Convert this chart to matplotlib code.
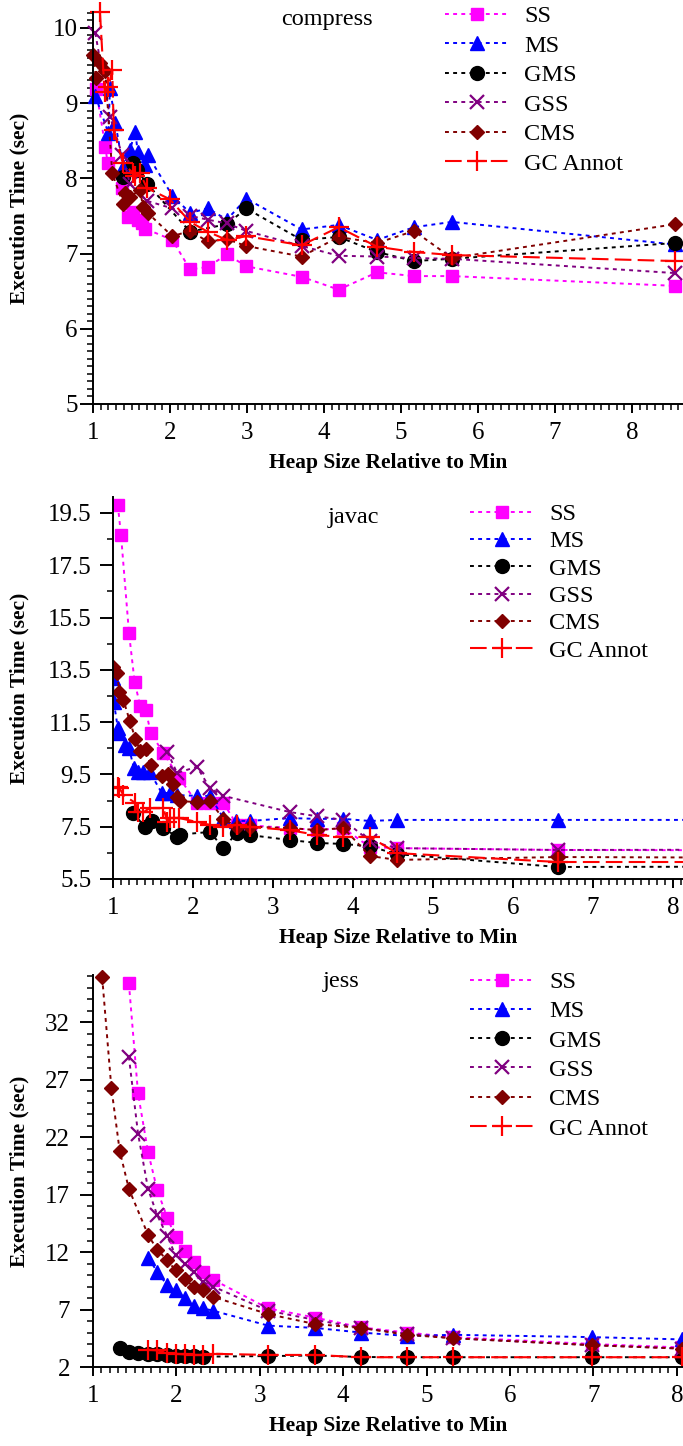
import matplotlib
matplotlib.use("Agg")
import matplotlib.pyplot as plt
from matplotlib.ticker import MultipleLocator, FixedLocator, FuncFormatter

plt.rcParams['font.family'] = ['Liberation Serif', 'DejaVu Serif']

W, H = 683, 1446

# ---------------- compress ----------------
c_ss_x = [1.04, 1.16, 1.19, 1.38, 1.45, 1.52, 1.58, 1.64, 1.68, 2.03, 2.26, 2.49, 2.74, 2.99, 3.71, 4.19, 4.69, 5.17, 5.66, 8.56]
c_ss_y = [9.18, 8.42, 8.20, 7.87, 7.48, 7.55, 7.45, 7.40, 7.33, 7.18, 6.79, 6.82, 6.99, 6.83, 6.69, 6.52, 6.75, 6.70, 6.70, 6.57]
c_ms_x = [1.03, 1.20, 1.22, 1.29, 1.39, 1.48, 1.55, 1.58, 1.68, 1.71, 2.03, 2.26, 2.49, 2.74, 2.99, 3.71, 4.19, 4.69, 5.17, 5.66, 8.56]
c_ms_y = [9.10, 8.60, 9.20, 8.74, 8.15, 8.38, 8.62, 8.35, 8.18, 8.31, 7.77, 7.54, 7.60, 7.45, 7.73, 7.32, 7.38, 7.18, 7.35, 7.42, 7.12]
c_gms_x = [1.39, 1.52, 1.57, 1.70, 2.26, 2.74, 2.99, 3.71, 4.19, 4.69, 5.17, 5.66, 8.56]
c_gms_y = [8.02, 8.20, 8.11, 7.93, 7.29, 7.39, 7.60, 7.18, 7.22, 7.02, 6.90, 6.93, 7.14]
c_gss_x = [1.03, 1.22, 1.38, 1.48, 1.70, 2.03, 2.26, 2.49, 2.74, 2.99, 3.71, 4.19, 4.69, 5.17, 5.66, 8.56]
c_gss_y = [9.93, 8.82, 8.31, 7.93, 7.70, 7.60, 7.50, 7.45, 7.40, 7.30, 7.10, 6.97, 6.96, 6.94, 6.93, 6.74]
c_cms_x = [1.00, 1.04, 1.09, 1.16, 1.25, 1.39, 1.42, 1.48, 1.61, 1.65, 1.71, 2.03, 2.26, 2.49, 2.74, 2.99, 3.71, 4.19, 4.69, 5.17, 5.66, 8.56]
c_cms_y = [9.64, 9.33, 9.53, 9.42, 8.07, 7.66, 7.80, 7.75, 7.85, 7.62, 7.54, 7.23, 7.30, 7.16, 7.19, 7.10, 6.96, 7.22, 7.14, 7.30, 6.94, 7.39]
c_gc_x = [1.09, 1.15, 1.20, 1.25, 1.27, 1.39, 1.52, 1.55, 1.61, 1.70, 2.00, 2.26, 2.49, 2.74, 2.99, 3.71, 4.19, 4.69, 5.17, 5.66, 8.56]
c_gc_y = [10.21, 9.15, 9.21, 9.44, 8.64, 8.20, 8.07, 8.03, 8.07, 7.87, 7.72, 7.42, 7.29, 7.18, 7.23, 7.11, 7.35, 7.09, 7.02, 6.98, 6.90]

# ---------------- javac ----------------
j_ss_x = [1.06, 1.10, 1.20, 1.27, 1.34, 1.41, 1.47, 1.63, 1.83, 2.05, 2.21, 2.38, 2.55, 2.71, 3.21, 3.55, 3.88, 4.21, 4.55, 6.56, 8.60]
j_ss_y = [19.81, 18.66, 14.91, 13.04, 12.12, 11.97, 11.09, 10.32, 9.36, 8.41, 8.41, 8.41, 7.57, 7.55, 7.45, 7.37, 7.45, 6.72, 6.68, 6.61, 6.60]
j_ms_x = [1.00, 1.01, 1.06, 1.08, 1.15, 1.20, 1.26, 1.31, 1.38, 1.46, 1.61, 1.71, 1.80, 2.05, 2.21, 2.38, 2.54, 2.71, 3.21, 3.55, 3.88, 4.21, 4.55, 6.56, 8.60]
j_ms_y = [13.19, 12.27, 11.28, 11.10, 10.63, 10.51, 9.75, 9.60, 9.59, 9.59, 8.79, 8.79, 8.71, 8.68, 8.68, 7.83, 7.72, 7.72, 7.83, 7.80, 7.80, 7.72, 7.76, 7.76, 7.76]
j_gms_x = [1.25, 1.40, 1.49, 1.63, 1.80, 1.84, 2.21, 2.38, 2.55, 2.71, 3.21, 3.55, 3.88, 4.21, 4.55, 6.56, 8.60]
j_gms_y = [8.03, 7.49, 7.72, 7.45, 7.11, 7.20, 7.30, 6.69, 7.26, 7.18, 6.99, 6.88, 6.84, 6.75, 6.45, 5.96, 5.97]
j_gss_x = [1.68, 1.80, 2.05, 2.21, 2.38, 3.21, 3.55, 3.88, 4.21, 4.55, 6.56, 8.60]
j_gss_y = [10.36, 9.56, 9.79, 8.98, 8.68, 8.06, 7.90, 7.76, 6.95, 6.68, 6.61, 6.62]
j_cms_x = [1.00, 1.05, 1.08, 1.13, 1.21, 1.28, 1.34, 1.41, 1.47, 1.61, 1.69, 1.75, 1.80, 1.84, 2.05, 2.21, 2.38, 2.55, 2.71, 3.21, 3.55, 3.88, 4.21, 4.55, 6.56, 8.60]
j_cms_y = [13.61, 13.38, 12.65, 12.35, 11.54, 10.86, 10.40, 10.47, 9.86, 9.44, 9.52, 9.13, 8.64, 8.48, 8.44, 8.48, 7.80, 7.50, 7.50, 7.45, 7.37, 7.45, 6.38, 6.23, 6.34, 6.32]
j_gc_x = [1.00, 1.06, 1.08, 1.13, 1.28, 1.31, 1.38, 1.46, 1.63, 1.68, 1.71, 1.76, 1.83, 2.05, 2.21, 2.38, 2.55, 2.71, 3.21, 3.55, 3.88, 4.21, 4.55, 6.56, 8.60]
j_gc_y = [8.98, 9.02, 8.98, 8.71, 8.41, 8.06, 8.06, 8.21, 8.21, 7.68, 7.83, 7.85, 7.83, 7.68, 7.57, 7.49, 7.57, 7.49, 7.37, 7.18, 7.11, 7.11, 6.49, 6.15, 6.15]

# ---------------- jess ----------------
s_ss_x = [1.43, 1.54, 1.66, 1.77, 1.89, 1.99, 2.10, 2.21, 2.32, 2.44, 3.10, 3.66, 4.21, 4.76, 5.32, 6.98, 8.06]
s_ss_y = [35.4, 25.8, 20.7, 17.4, 15.0, 13.3, 12.1, 11.1, 10.3, 9.6, 7.1, 6.3, 5.45, 5.0, 4.6, 4.0, 3.7]
s_ms_x = [1.66, 1.77, 1.89, 1.99, 2.10, 2.21, 2.32, 2.44, 3.10, 3.66, 4.21, 4.76, 5.32, 6.98, 8.06]
s_ms_y = [11.5, 10.3, 9.1, 8.7, 8.0, 7.3, 7.1, 6.9, 5.6, 5.4, 5.0, 4.7, 4.8, 4.6, 4.4]
s_gms_x = [1.32, 1.43, 1.54, 1.66, 1.77, 1.89, 1.99, 2.10, 2.21, 2.32, 3.10, 3.66, 4.21, 4.76, 5.32, 6.98, 8.06]
s_gms_y = [3.65, 3.30, 3.20, 3.10, 3.10, 3.05, 3.00, 2.95, 2.95, 2.90, 2.95, 3.00, 2.87, 2.85, 2.85, 2.85, 2.85]
s_gss_x = [1.43, 1.54, 1.66, 1.77, 1.89, 1.99, 2.10, 2.21, 2.32, 2.44, 3.10, 3.66, 4.21, 4.76, 5.32, 6.98, 8.06]
s_gss_y = [29.0, 22.3, 17.5, 15.2, 13.4, 11.7, 11.0, 10.3, 9.4, 9.0, 6.9, 6.1, 5.4, 4.9, 4.5, 3.9, 3.6]
s_cms_x = [1.11, 1.22, 1.32, 1.43, 1.66, 1.77, 1.89, 1.99, 2.10, 2.21, 2.32, 2.44, 3.10, 3.66, 4.21, 4.76, 5.32, 6.98, 8.06]
s_cms_y = [35.9, 26.3, 20.8, 17.5, 13.5, 12.2, 11.3, 10.4, 9.65, 8.96, 8.7, 8.1, 6.6, 5.74, 5.4, 4.8, 4.5, 3.9, 3.6]
s_gc_x = [1.66, 1.77, 1.89, 1.99, 2.10, 2.21, 2.32, 2.44, 3.10, 3.66, 4.21, 4.76, 5.32, 6.98, 8.06]
s_gc_y = [3.50, 3.45, 3.20, 3.15, 3.10, 3.05, 3.05, 3.15, 3.05, 3.05, 2.85, 2.85, 2.85, 2.85, 2.85]

labels = ["SS", "MS", "GMS", "GSS", "CMS", "GC Annot"]

styles = [
    dict(color="#FF00FF", marker="s", ms=9, ls=(0, (2, 2.2)), lw=1.4),
    dict(color="#0000FF", marker="^", ms=10, ls=(0, (2, 2.2)), lw=1.4),
    dict(color="#000000", marker="o", ms=10, ls=(0, (2, 2.2)), lw=1.4),
    dict(color="#800080", marker="x", ms=10, mew=1.6, ls=(0, (2, 2.2)), lw=1.4),
    dict(color="#800000", marker="D", ms=7, ls=(0, (2, 2.2)), lw=1.4),
    dict(color="#FF0000", marker="+", ms=14, mew=1.6, ls=(0, (8, 3)), lw=1.5),
]

TICK_FS = 18
LAB_FS = 15.5

fig = plt.figure(figsize=(W / 100, H / 100), dpi=100)


def panel(rect, series, xlim, ylim, ymajor, yminor, title, title_xy, leg_xy,
          leg_spacing, ypad, clip):
    left, right, top, bottom = rect
    ax = fig.add_axes([left / W, 1 - bottom / H, (right - left) / W, (bottom - top) / H])
    for (xs, ys), lab, st in zip(series, labels, styles):
        ax.plot(xs, ys, label=lab, clip_on=clip, **st)
    ax.set_xlim(*xlim)
    ax.set_ylim(*ylim)
    ax.xaxis.set_major_locator(MultipleLocator(1))
    ax.xaxis.set_minor_locator(MultipleLocator(0.1))
    ax.yaxis.set_major_locator(FixedLocator(ymajor))
    ax.yaxis.set_minor_locator(FixedLocator(yminor))
    ax.yaxis.set_major_formatter(FuncFormatter(lambda v, p: f"{v:g}"))
    for s in ("top", "right"):
        ax.spines[s].set_visible(False)
    for s in ("left", "bottom"):
        ax.spines[s].set_linewidth(1.4)
    ax.tick_params(axis="y", which="major", direction="out", length=9.5, width=1.4,
                   labelsize=TICK_FS, pad=ypad)
    ax.tick_params(axis="x", which="major", direction="out", length=6.5, width=1.4,
                   labelsize=TICK_FS, pad=6.5)
    ax.tick_params(which="minor", direction="out", length=4, width=1.1)
    ax.set_xlabel("Heap Size Relative to Min", fontsize=LAB_FS, fontweight="bold")
    ax.set_ylabel("Execution Time (sec)", fontsize=LAB_FS, fontweight="bold")
    h = bottom - top
    w = right - left
    # label top sits a fixed distance below the x axis line
    ax.xaxis.set_label_coords(0.5, -49 / h)
    ax.yaxis.set_label_coords((19 - left) / w, 0.5)
    ax.yaxis.label.set_va("center")
    fig.text(title_xy[0] / W, 1 - title_xy[1] / H, title, fontsize=17.5,
             ha="center", va="center")
    ax.legend(loc="upper left", bbox_to_anchor=(leg_xy[0] / W, 1 - leg_xy[1] / H),
              bbox_transform=fig.transFigure, frameon=False, borderpad=0,
              borderaxespad=0, handlelength=2.6, handletextpad=0.65,
              labelspacing=leg_spacing, numpoints=1, fontsize=17.5)
    return ax


panel((93, 683, 12, 404),
      [(c_ss_x, c_ss_y), (c_ms_x, c_ms_y), (c_gms_x, c_gms_y),
       (c_gss_x, c_gss_y), (c_cms_x, c_cms_y), (c_gc_x, c_gc_y)],
      (1, 8.662), (5, 10.21), [5, 6, 7, 8, 9, 10],
      [5 + 0.1 * i for i in range(1, 53) if i % 10],
      "compress", (327, 20), (445, 5), 0.31, 1.5, False)

panel((113, 683, 497, 879),
      [(j_ss_x, j_ss_y), (j_ms_x, j_ms_y), (j_gms_x, j_gms_y),
       (j_gss_x, j_gss_y), (j_cms_x, j_cms_y), (j_gc_x, j_gc_y)],
      (1, 8.125), (5.5, 20.11), [5.5, 7.5, 9.5, 11.5, 13.5, 15.5, 17.5, 19.5],
      [6.5, 8.5, 10.5, 12.5, 14.5, 16.5, 18.5],
      "javac", (353, 517), (470, 503), 0.22, 6, True)

panel((93, 683, 975, 1367),
      [(s_ss_x, s_ss_y), (s_ms_x, s_ms_y), (s_gms_x, s_gms_y),
       (s_gss_x, s_gss_y), (s_cms_x, s_cms_y), (s_gc_x, s_gc_y)],
      (1, 8.074), (2, 36.1), [2, 7, 12, 17, 22, 27, 32],
      [v for v in range(3, 37) if (v - 2) % 5],
      "jess", (341, 982), (470, 971), 0.30, 7, False)

fig.savefig("out.png", dpi=100)
